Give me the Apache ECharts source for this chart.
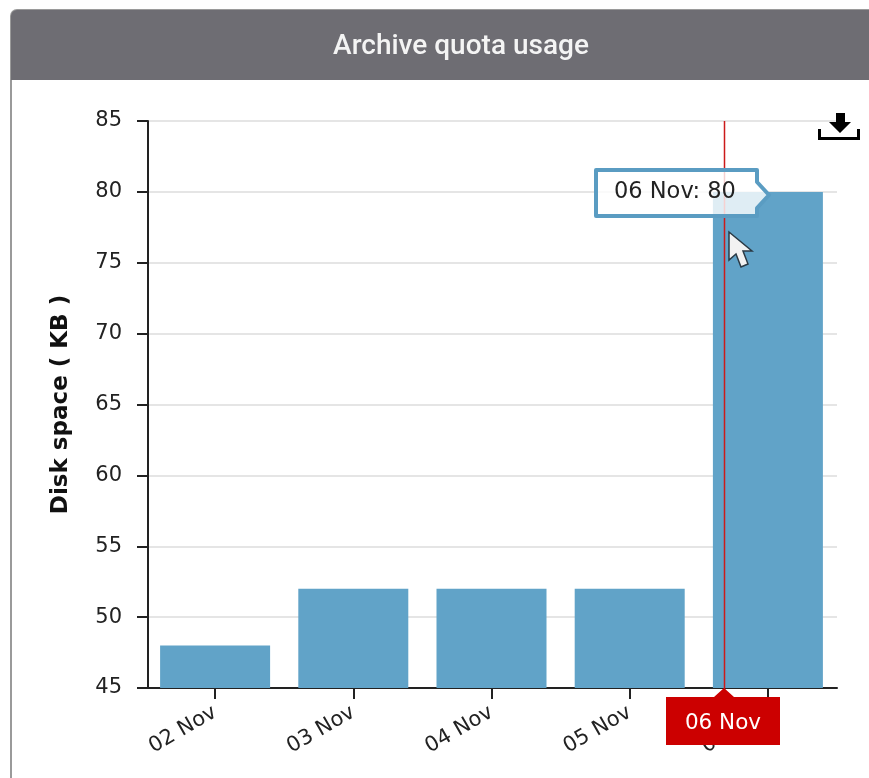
<!DOCTYPE html>
<html><head><meta charset="utf-8">
<style>html,body{margin:0;padding:0;background:#fff}#c{width:869px;height:778px}</style>
<script src="https://cdn.jsdelivr.net/npm/echarts@6/dist/echarts.min.js"></script>
</head><body><div id="c"></div>
<script>
const categories = ['02 Nov','03 Nov','04 Nov','05 Nov','06 Nov'];
const usage = [48,52,52,52,80];
const yMin = 45, yMax = 85, yStep = 5;
const chartTitle = 'Archive quota usage';
const yName = 'Disk space ( KB )';
const hoverLabel = '06 Nov';
const tipText = '06 Nov: 80';

const chart = echarts.init(document.getElementById('c'), null, {renderer:'canvas'});
const font = '"DejaVu Sans"';
chart.setOption({
  animation:false,
  backgroundColor:'#ffffff',
  title:{text:chartTitle,left:456,top:26,textAlign:'center',
    textStyle:{color:'#f4f4f4',fontFamily:'Roboto',fontWeight:500,fontSize:28,lineHeight:32}},
  grid:{left:146,top:121,width:691,height:567,containLabel:false},
  xAxis:{type:'category',data:categories,
    axisLine:{lineStyle:{color:'#222',width:2}},
    axisTick:{show:true,alignWithLabel:true,length:11,lineStyle:{color:'#222',width:2}},
    axisLabel:{rotate:30,color:'#222',fontFamily:font,fontSize:21,margin:23,interval:0}},
  yAxis:{type:'value',min:yMin,max:yMax,interval:yStep,offset:-2,
    name:yName,nameLocation:'middle',nameGap:75,nameRotate:90,
    nameTextStyle:{color:'#111',fontFamily:font,fontWeight:'bold',fontSize:23},
    axisLine:{show:true,lineStyle:{color:'#222',width:2}},
    axisTick:{show:true,length:11,lineStyle:{color:'#222',width:2}},
    axisLabel:{color:'#222',fontFamily:font,fontSize:21,margin:26},
    splitLine:{show:true,lineStyle:{color:'#dcdcdc',width:1.5}}},
  series:[{type:'bar',data:usage,barWidth:110,itemStyle:{color:'#61a3c8'},z:2}],
  graphic:[
    {type:'rect',z:-1,silent:true,shape:{x:11,y:10,width:870,height:790,r:[6,0,0,0]},
      style:{fill:'#ffffff',stroke:'#9a9a9a',lineWidth:2}},
    {type:'rect',z:0,silent:true,shape:{x:11,y:10,width:860,height:70,r:[6,0,0,0]},
      style:{fill:'#6e6d73'}},
    {type:'line',z:50,silent:true,shape:{x1:724.5,y1:121,x2:724.5,y2:690},style:{stroke:'#cc1a1a',lineWidth:1.5}},
    {type:'polygon',z:51,silent:true,shape:{points:[[666,697],[714,697],[724,688],[734,697],[780,697],[780,745],[666,745]]},
      style:{fill:'#cc0000'}},
    {type:'text',z:52,silent:true,x:723,y:723,style:{text:hoverLabel,fill:'#fff',font:'21.5px "DejaVu Sans"',align:'center',verticalAlign:'middle'}},
    {type:'polygon',z:60,silent:true,
      shape:{points:[[596,170],[757,170],[757,182],[769,195],[757,208],[757,216],[596,216]]},
      style:{fill:'rgba(255,255,255,0.8)',stroke:'#5a9cc2',lineWidth:4,lineJoin:'round'}},
    {type:'text',z:61,silent:true,x:614,y:192,style:{text:tipText,fill:'#222',font:'22.5px "DejaVu Sans"',align:'left',verticalAlign:'middle'}},
    {type:'polygon',z:70,silent:true,
      shape:{points:[[729,232],[729,260],[736,254],[741,267],[748,264],[743,251],[752,251]]},
      style:{fill:'#f2f2f2',stroke:'#2b3a45',lineWidth:1.5}},
    {type:'group',z:70,silent:true,children:[
      {type:'polygon',z:70,shape:{points:[[836,113],[845,113],[845,122],[851,122],[840,133],[829,122],[836,122]]},style:{fill:'#000'}},
      {type:'polyline',z:70,shape:{points:[[819.5,129],[819.5,138.5],[858.5,138.5],[858.5,129]]},style:{fill:'none',stroke:'#000',lineWidth:3}}
    ]}
  ]
});
</script></body></html>
